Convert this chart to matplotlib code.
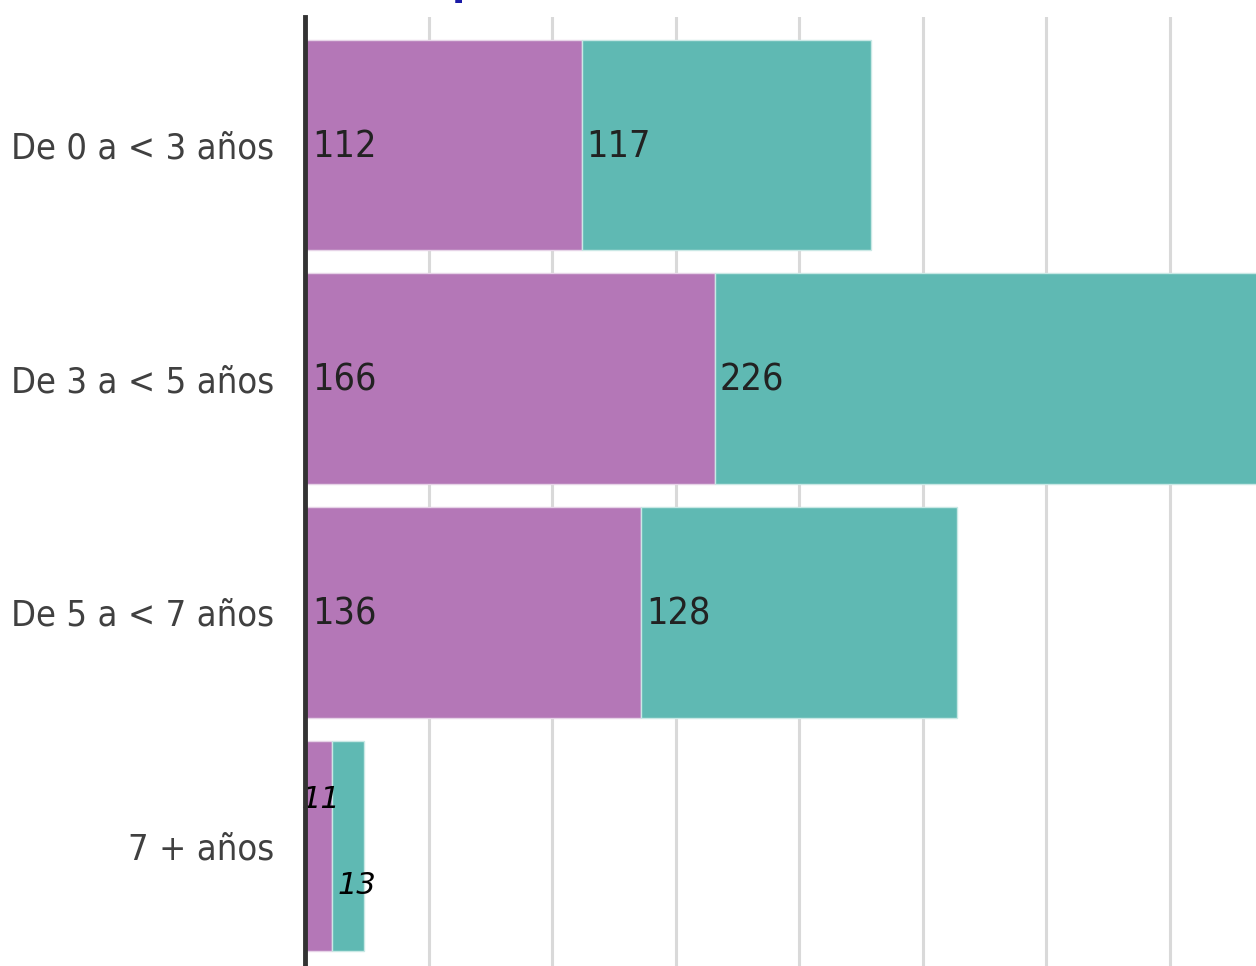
import matplotlib.pyplot as plt

categorias = ['De 0 a < 3 años', 'De 3 a < 5 años', 'De 5 a < 7 años', '7 + años']
serie_a = [112, 166, 136, 11]
serie_b = [117, 226, 128, 13]

morado = '#B477B7'
verde = '#5FB9B3'

fuente = 'DejaVu Sans'

fig = plt.figure(figsize=(12.56, 9.66), dpi=100)
ax = fig.add_axes([305 / 1256, 0, 1 - 305 / 1256, 1 - 17 / 966])

y = list(range(len(categorias)))
ax.barh(y, serie_a, height=0.9, color=morado, edgecolor='#e6d3e7', linewidth=1, zorder=2)
ax.barh(y, serie_b, left=serie_a, height=0.9, color=verde, edgecolor='#c9e8e5', linewidth=1, zorder=2)

ax.set_xlim(0, 385)
ax.set_ylim(3.513, -0.547)

for i in y:
    if serie_a[i] > 50:
        ax.text(3, i + 0.01, str(serie_a[i]), va='center', ha='left', fontsize=27,
                family=fuente, stretch='condensed', color='#222222', zorder=3)
        ax.text(serie_a[i] + 2, i + 0.01, str(serie_b[i]), va='center', ha='left', fontsize=27,
                family=fuente, stretch='condensed', color='#222222', zorder=3)
    else:
        ax.text(-1.5, i - 0.2, str(serie_a[i]), va='center', ha='left',
                fontsize=22, style='italic', color='black', zorder=3)
        ax.text(serie_a[i] + 2, i + 0.17, str(serie_b[i]), va='center', ha='left',
                fontsize=22, style='italic', color='black', zorder=3)

ax.set_xticks(range(0, 400, 50))
ax.xaxis.grid(True, color='#d9d9d9', linewidth=2.2, zorder=0)
ax.set_axisbelow(True)
ax.tick_params(axis='x', length=0, labelbottom=False)
ax.tick_params(axis='y', length=0, pad=22)
ax.set_yticks(y)
ax.set_yticklabels(categorias, fontsize=26, family=fuente, stretch='condensed',
                   color='#404040')

for s in ['top', 'right', 'bottom']:
    ax.spines[s].set_visible(False)
ax.spines['left'].set_color('#333333')
ax.spines['left'].set_linewidth(3.5)
ax.spines['left'].set_zorder(4)

# resto del título, cortado en el borde superior
fig.text(466 / 1256, 1 + 5 / 966, 'p', color='#1a1aa6', fontsize=28, fontweight='bold',
         ha='center', va='baseline')

fig.savefig('out.png', dpi=100)
